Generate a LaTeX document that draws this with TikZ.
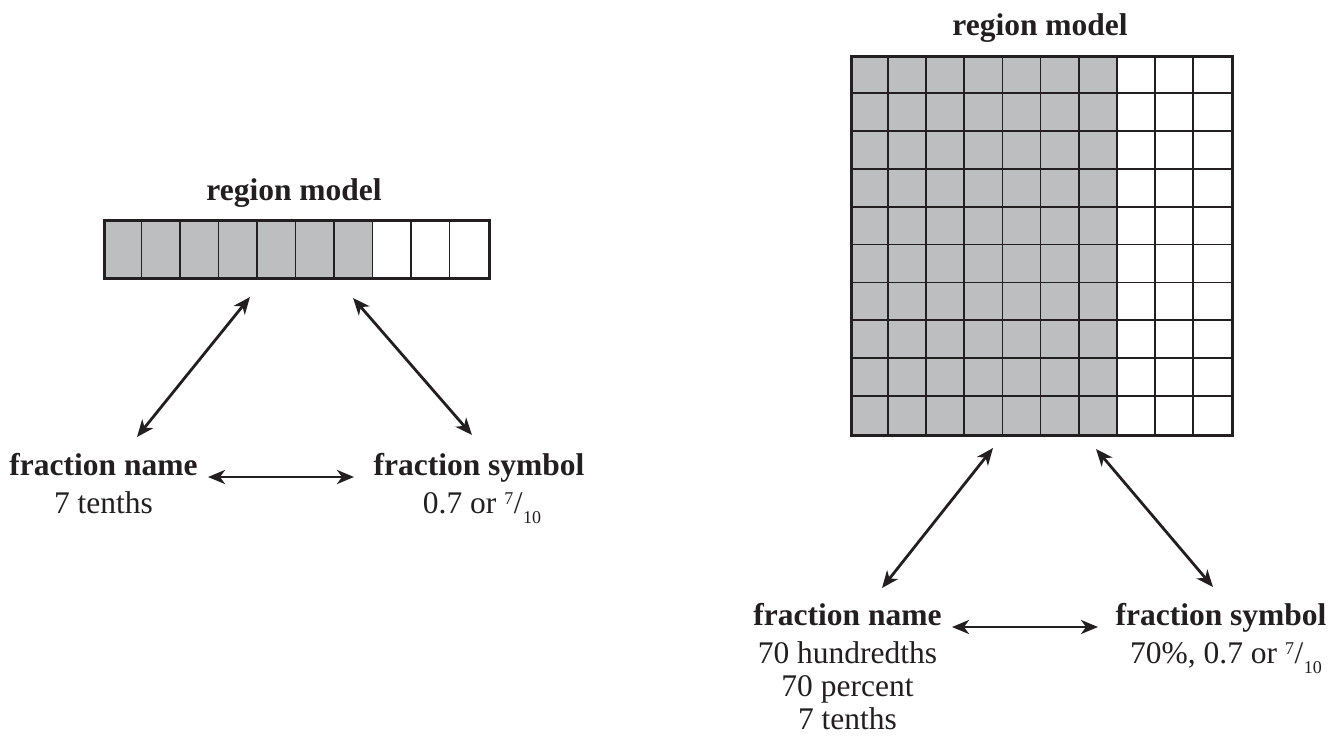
\documentclass[tikz,border=0pt]{standalone}
\usepackage{fontspec}
\setmainfont{Liberation Serif}
\usetikzlibrary{arrows.meta}
\definecolor{cellgray}{RGB}{188,190,192}
\definecolor{ink}{RGB}{35,31,32}
\newcommand{\sevtenth}{{\fontsize{18}{18}\selectfont\raisebox{9pt}{7}}\kern0.5pt/\kern0.5pt{\fontsize{18}{18}\selectfont\raisebox{-10pt}{10}}}
\begin{document}
\begin{tikzpicture}[x=1pt,y=-1pt,
  lbl/.style={inner sep=0pt, anchor=base, text=ink, font=\fontsize{31.5}{33}\selectfont},
  head/.style={lbl, font=\fontsize{31.5}{33}\selectfont\bfseries},
  dbl/.style={draw=ink, line width=2.8pt, {Stealth[length=17pt,width=14pt,inset=5pt]}-{Stealth[length=17pt,width=14pt,inset=5pt]}},
  cellline/.style={draw=ink, line width=1.8pt},
  frame/.style={draw=ink, line width=3pt, inner sep=0pt, anchor=north west}
]
\useasboundingbox (0,0) rectangle (1341,744);

% left strip (10 tenths)
\fill[cellgray] (103,219) rectangle (372.5,277);
\foreach \i in {1,...,9} \draw[cellline] ({103+38.5*\i},219) -- ({103+38.5*\i},277);
\node[frame, minimum width=385pt, minimum height=58pt] (strip) at (103,219) {};
\node[head] (t1) at (294,200) {region model};

% right grid (100 hundredths)
\fill[cellgray] (850,55) rectangle (1116.7,434);
\foreach \i in {1,...,9} {
  \draw[cellline] ({850+38.1*\i},55) -- ({850+38.1*\i},434);
  \draw[cellline] (850,{55+37.9*\i}) -- (1231,{55+37.9*\i});
}
\node[frame, minimum width=381pt, minimum height=379pt] (grid) at (850,55) {};
\node[head] (t2) at (1040,35) {region model};

% left labels
\node[head] (n1) at (103.5,475) {fraction name};
\node[lbl] (n1v) at (103.5,513) {7 tenths};
\node[head] (s1) at (479,475) {fraction symbol};
\node[lbl] (s1v) at (482,513) {0.7 or \sevtenth};

% right labels
\node[head] (n2) at (847.5,625) {fraction name};
\node[lbl] (n2v) at (847.5,663) {\begin{tabular}[t]{@{}c@{}}70 hundredths\\70 percent\\7 tenths\end{tabular}};
\node[head] (s2) at (1221,625) {fraction symbol};
\node[lbl] (s2v) at (1226,663) {70\%, 0.7 or \sevtenth};

% arrow end points
\coordinate (la1) at (137,437);  \coordinate (la2) at (250,297);
\coordinate (lb1) at (353,298);  \coordinate (lb2) at (472,435);
\coordinate (lc1) at (208,477);  \coordinate (lc2) at (354,477);
\coordinate (ra1) at (882,588);  \coordinate (ra2) at (993,448);
\coordinate (rb1) at (1096,449); \coordinate (rb2) at (1213,587);
\coordinate (rc1) at (952,627);  \coordinate (rc2) at (1098,627);

\draw[dbl] (la1) -- (la2);
\draw[dbl] (lb1) -- (lb2);
\draw[dbl] (lc1) -- (lc2);
\draw[dbl] (ra1) -- (ra2);
\draw[dbl] (rb1) -- (rb2);
\draw[dbl] (rc1) -- (rc2);
\end{tikzpicture}
\end{document}
